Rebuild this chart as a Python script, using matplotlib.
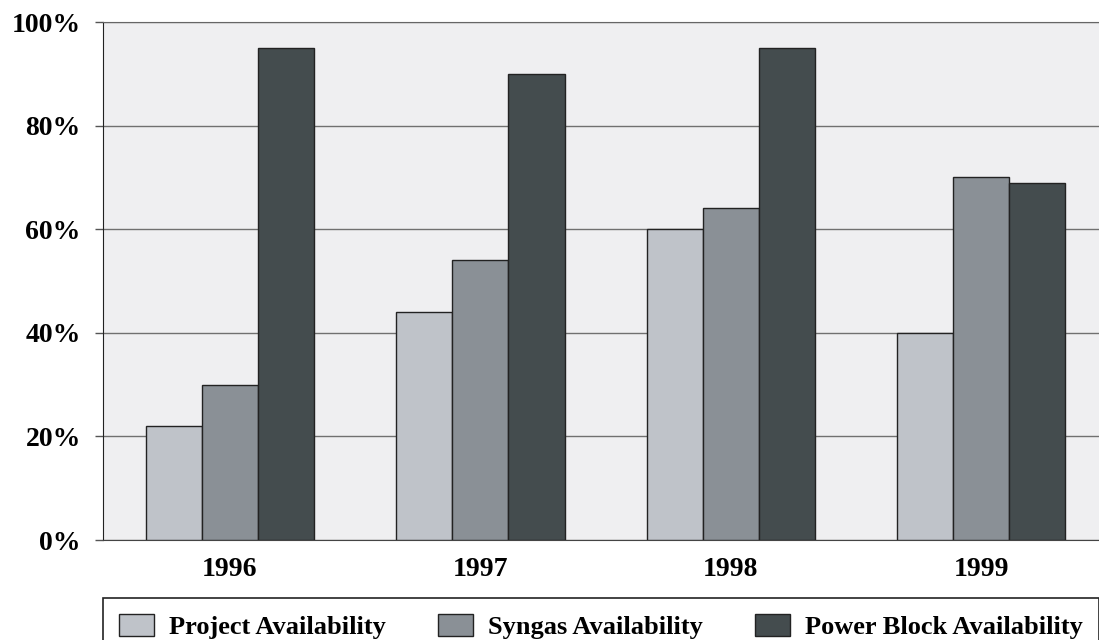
import numpy as np
import matplotlib.pyplot as plt

years = ["1996", "1997", "1998", "1999"]
project = [22, 44, 60, 40]
syngas = [30, 54, 64, 70]
power_block = [95, 90, 95, 69]
series_names = ["Project Availability", "Syngas Availability", "Power Block Availability"]
colors = ["#bfc3c9", "#8a9096", "#444c4e"]

plt.rcParams['font.family'] = ['Liberation Serif', 'DejaVu Serif']
plt.rcParams['font.weight'] = 'bold'

fig = plt.figure(figsize=(10.99, 6.4), dpi=100)
ax = fig.add_axes([103 / 1099, 1 - 540 / 640, 996 / 1099, 518 / 640])
ax.set_facecolor("#efeff1")

x = np.arange(len(years))
w = 0.224
handles = []
for i, (vals, name, c) in enumerate(zip([project, syngas, power_block], series_names, colors)):
    b = ax.bar(x + (i - 1) * w, vals, w, color=c, edgecolor="#222222", linewidth=1.0,
               label=name, zorder=3)
    handles.append(b)

ax.set_xlim(-0.507, 3.47)
ax.set_ylim(0, 100)
ax.set_yticks(range(0, 101, 20))
ax.set_yticklabels([f"{v}%" for v in range(0, 101, 20)], fontsize=20, fontweight='bold')
ax.set_xticks(x)
ax.set_xticklabels(years, fontsize=20, fontweight='bold')
ax.tick_params(axis='x', length=0, pad=12)
ax.tick_params(axis='y', length=6, width=1, color="#555555", pad=10)
ax.grid(axis='y', color="#707070", linewidth=1.0, zorder=1)
ax.spines['right'].set_visible(False)
ax.spines['top'].set_color("#666666")
ax.spines['left'].set_color("#222222")
ax.spines['bottom'].set_color("#444444")

leg = fig.legend(handles=handles, loc="upper left", ncol=3, mode="expand",
                 bbox_to_anchor=(103 / 1099, 0, 996 / 1099, 42 / 640),
                 fancybox=False, edgecolor="#222222", framealpha=1,
                 prop={'size': 19, 'weight': 'bold'},
                 handlelength=1.33, handleheight=0.9, handletextpad=0.55,
                 borderpad=0.62, borderaxespad=0)
leg.get_frame().set_linewidth(1.2)

fig.savefig("out.png", dpi=100)
